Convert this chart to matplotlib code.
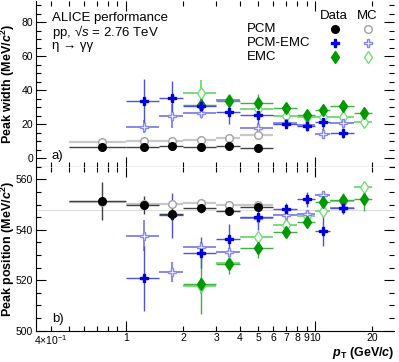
import numpy as np
import matplotlib
matplotlib.use("Agg")
import matplotlib.pyplot as plt
from matplotlib.ticker import FixedLocator, FixedFormatter, NullFormatter

plt.rcParams['font.family'] = ['Liberation Sans', 'DejaVu Sans']
plt.rcParams['mathtext.fontset'] = 'custom'
plt.rcParams['mathtext.rm'] = 'Liberation Sans'
plt.rcParams['mathtext.it'] = 'Liberation Sans:italic'
plt.rcParams['mathtext.bf'] = 'Liberation Sans:bold'
plt.rcParams['mathtext.bfit'] = 'Liberation Sans:bold:italic'

# bins (pT, GeV/c)
pcm_lo = [0.5, 1.0, 1.5, 2.0, 3.0, 4.0]
pcm_hi = [1.0, 1.5, 2.0, 3.0, 4.0, 6.0]
pcmemc_lo = [1.0, 1.5, 2.0, 3.0, 4.0, 6.0, 8.0, 10.0, 12.0]
pcmemc_hi = [1.5, 2.0, 3.0, 4.0, 6.0, 8.0, 10.0, 12.0, 16.0]
emc_lo = [2.0, 3.0, 4.0, 6.0, 8.0, 10.0, 12.0, 16.0]
emc_hi = [3.0, 4.0, 6.0, 8.0, 10.0, 12.0, 16.0, 20.0]

# peak width (MeV/c^2)
pcm_w = [6.8, 6.6, 7.4, 6.6, 7.2, 6.2]
pcm_w_err = [2.5, 2.0, 2.0, 1.5, 1.5, 1.0]
pcm_w_mc = [9.4, 10.4, 10.2, 10.8, 11.8, 13.7]
pcm_w_mc_err = [0.6, 0.5, 0.5, 0.5, 0.5, 0.5]
pcmemc_w = [33.7, 35.7, 31.0, 27.3, 25.2, 20.4, 19.2, 21.3, 14.9]
pcmemc_w_err = [13, 10, 6, 7, 6, 2.5, 3, 4, 3]
pcmemc_w_mc = [18.6, 24.9, 26.8, 34.3, 18.0, 20.8, 19.8, 14.1, 20.6]
pcmemc_w_mc_err = [4, 7, 3, 3, 3, 2, 2, 3, 2]
emc_w = [31.5, 33.9, 32.7, 29.4, 25.5, 28.4, 30.8, 26.8]
emc_w_err = [8, 4, 5, 2, 2, 3, 3, 3]
emc_w_mc = [38.2, 34.3, 28.8, 24.9, 24.1, 24.1, 24.5, 21.5]
emc_w_mc_err = [8, 3, 2, 1.5, 1.5, 1.5, 1.5, 1.5]

# peak position (MeV/c^2)
pcm_m = [551.4, 549.9, 546.4, 548.8, 547.4, 549.0]
pcm_m_err = [7.5, 3.5, 2.5, 2.0, 1.5, 1.5]
pcm_m_mc = [551.0, 550.2, 550.4, 550.8, 549.9, 549.9]
pcm_m_mc_err = [0.5, 0.5, 0.5, 0.5, 0.5, 0.5]
pcmemc_m = [520.7, 545.7, 531.0, 536.4, 545.0, 548.1, 552.1, 539.6, 548.8]
pcmemc_m_err = [13, 9, 6, 6, 5, 2.5, 3, 6, 2.5]
pcmemc_m_mc = [537.7, 523.3, 533.3, 531.3, 544.6, 546.0, 546.4, 553.7, 548.5]
pcmemc_m_mc_err = [6, 4, 2, 1.5, 1.5, 1.5, 1.5, 1.5, 1.5]
emc_m = [518.6, 526.4, 532.8, 539.0, 543.0, 551.0, 552.0, 552.3]
emc_m_err = [12, 4, 4, 2, 2, 3, 2.5, 5]
emc_m_mc = [517.7, 526.8, 537.3, 542.0, 545.5, 547.4, 551.4, 556.8]
emc_m_mc_err = [3, 2, 1.5, 1.5, 1.5, 1.5, 1.5, 1.5]

eta_mass = 547.862


def centers(lo, hi):
    lo, hi = np.array(lo), np.array(hi)
    c = (lo + hi) / 2
    return c, np.vstack([c - lo, hi - c])


def draw(ax, lo, hi, y, yerr, fmt, ms, color, ecolor, mfc, lw=1.0):
    x, xerr = centers(lo, hi)
    ax.errorbar(x, y, yerr=yerr, xerr=xerr, fmt=fmt, ms=ms, color=color,
                mfc=mfc, mec=color, mew=1.0, ecolor=ecolor, elinewidth=lw,
                capsize=0, zorder=3)


fig = plt.figure(figsize=(3.99, 3.62), dpi=100)
ax1 = fig.add_axes([0.0902, 0.5392, 0.8972, 0.458])
ax2 = fig.add_axes([0.0902, 0.0865, 0.8972, 0.4528])

gray_mc = '#a0a0a0'
blue = '#0000dd'
blue_e = '#5050e0'
blue_mc = '#8888ee'
green = '#009900'
green_e = '#40b040'
green_mc = '#77dd77'

for ax, sets in [
    (ax1, [(pcm_w_mc, pcm_w_mc_err, pcmemc_w_mc, pcmemc_w_mc_err, emc_w_mc, emc_w_mc_err),
           (pcm_w, pcm_w_err, pcmemc_w, pcmemc_w_err, emc_w, emc_w_err)]),
    (ax2, [(pcm_m_mc, pcm_m_mc_err, pcmemc_m_mc, pcmemc_m_mc_err, emc_m_mc, emc_m_mc_err),
           (pcm_m, pcm_m_err, pcmemc_m, pcmemc_m_err, emc_m, emc_m_err)])]:
    mc, dt = sets
    draw(ax, emc_lo, emc_hi, mc[4], mc[5], 'd', 6, green_mc, green_mc, 'white', 1.4)
    draw(ax, pcmemc_lo, pcmemc_hi, mc[2], mc[3], 'P', 6, blue_mc, blue_mc, 'white', 1.4)
    draw(ax, pcm_lo, pcm_hi, mc[0], mc[1], 'o', 5.5, gray_mc, '#c8c8c8', 'white', 1.6)
    draw(ax, emc_lo, emc_hi, dt[4], dt[5], 'd', 6, green, green_e, green)
    draw(ax, pcmemc_lo, pcmemc_hi, dt[2], dt[3], 'P', 6, blue, blue_e, blue)
    draw(ax, pcm_lo, pcm_hi, dt[0], dt[1], 'o', 5.5, 'black', '#404040', 'black')

ax2.axhline(eta_mass, color='#dddddd', lw=0.8, zorder=1)

major_x = [1, 10]
minor_x = [0.4, 0.5, 0.6, 0.7, 0.8, 0.9, 2, 3, 4, 5, 6, 7, 8, 9, 20]
minor_lab = ['4$\\times$10$^{-1}$', '', '', '', '', '', '2', '3', '4', '5', '6',
             '7', '8', '9', '20']

for ax in (ax1, ax2):
    ax.set_xscale('log')
    ax.set_xlim(0.334, 26)
    ax.xaxis.set_major_locator(FixedLocator(major_x))
    ax.xaxis.set_minor_locator(FixedLocator(minor_x))
    ax.tick_params(which='both', direction='in', top=True, right=True,
                   labelsize=7.5, width=0.8, pad=2)
    ax.tick_params(which='major', length=7)
    ax.tick_params(which='minor', length=3.5)
    ax.spines['right'].set_visible(False)
    ax.spines['top'].set_visible(False)

ax1.xaxis.set_major_formatter(NullFormatter())
ax1.xaxis.set_minor_formatter(NullFormatter())
ax2.xaxis.set_major_formatter(FixedFormatter(['1', '10']))
ax2.xaxis.set_minor_formatter(FixedFormatter(minor_lab))

ax1.set_ylim(-5, 92.5)
ax1.set_yticks([0, 20, 40, 60, 80])
ax1.set_yticks(np.arange(-5, 92, 5), minor=True)
ax2.set_ylim(500, 565)
ax2.set_yticks([500, 520, 540, 560])
ax2.set_yticks(np.arange(500, 566, 5), minor=True)

ax1.set_ylabel(r'Peak width (MeV/$\mathbfit{c}^{\mathbf{2}}$)', fontsize=9,
               fontweight='bold')
ax2.set_ylabel(r'Peak position (MeV/$\mathbfit{c}^{\mathbf{2}}$)', fontsize=9,
               fontweight='bold')
ax1.yaxis.set_label_coords(-0.052, 0.5)
ax2.yaxis.set_label_coords(-0.052, 0.5)
ax2.set_xlabel(r'$\mathbfit{p}_{\mathbf{T}}$ (GeV/$\mathbfit{c}$)', fontsize=9,
               fontweight='bold', labelpad=0)
ax2.xaxis.set_label_coords(1.0, -0.09)
ax2.xaxis.label.set_horizontalalignment('right')

ax1.text(0.044, 0.878, 'ALICE performance', transform=ax1.transAxes,
         fontsize=9.5, va='baseline')
ax1.text(0.044, 0.789, r'pp, √$\mathit{s}$ = 2.76 TeV', transform=ax1.transAxes,
         fontsize=9.5, va='baseline')
ax1.text(0.044, 0.709, 'η → γγ', transform=ax1.transAxes, fontsize=9.5, va='baseline')
ax1.text(0.044, 0.05, 'a)', transform=ax1.transAxes, fontsize=9.5)
ax2.text(0.044, 0.05, 'b)', transform=ax2.transAxes, fontsize=9.5)

# legend
lx_lab, lx_d, lx_mc = 0.588, 0.835, 0.927
rows = [0.829, 0.748, 0.664]
ax1.text(0.87, 0.89, 'Data', transform=ax1.transAxes, fontsize=9.5, ha='right',
         va='baseline')
ax1.text(0.895, 0.89, 'MC', transform=ax1.transAxes, fontsize=9.5, ha='left',
         va='baseline')
names = ['PCM', 'PCM-EMC', 'EMC']
dstyle = [('o', 'black', 'black', 5.5), ('P', blue, blue, 6), ('d', green, green, 6)]
mstyle = [('o', gray_mc, 'white', 5.5), ('P', blue_mc, 'white', 6), ('d', green_mc, 'white', 6)]
for r, n, d, m in zip(rows, names, dstyle, mstyle):
    ax1.text(lx_lab, r, n, transform=ax1.transAxes, fontsize=9.5, va='center')
    ax1.plot([lx_d], [r], d[0], color=d[1], mfc=d[2], ms=d[3], transform=ax1.transAxes)
    ax1.plot([lx_mc], [r], m[0], color=m[1], mfc=m[2], ms=m[3], transform=ax1.transAxes)

fig.savefig('out.png', dpi=100)
